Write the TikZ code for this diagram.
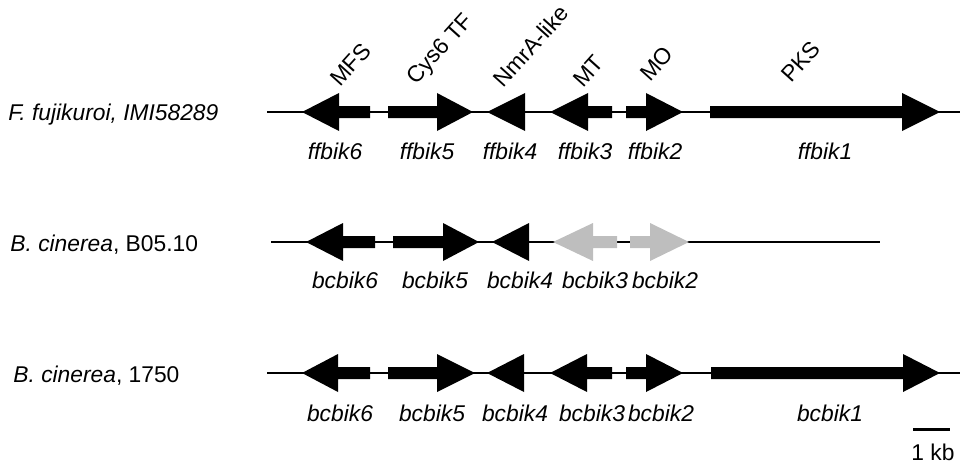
\documentclass[tikz,border=0pt]{standalone}
\usepackage{fontspec}
\setmainfont{Liberation Sans}
\definecolor{silentgrey}{RGB}{190,190,190}
\newcommand{\gen}[5][black]{\fill[#1] (#3,#2-6) -- (#4,#2-6) -- (#4,#2-19) -- (#5,#2) -- (#4,#2+19) -- (#4,#2+6) -- (#3,#2+6) -- cycle}
\newcommand{\backbone}[3]{\draw[line width=1.3pt] (#2,#1) -- (#3,#1)}

\begin{document}
\begin{tikzpicture}[x=0.5pt, y=-0.5pt, font=\fontsize{11.4}{13}\selectfont, inner sep=0pt,
                    genename/.style={anchor=base, font=\fontsize{11.4}{13}\selectfont\itshape},
                    product/.style={anchor=base west, rotate=48}]
                    \useasboundingbox (0,0) rectangle (962,465);

                    \node[anchor=base west, font=\fontsize{11.4}{13}\selectfont\itshape] (ff) at (8,120) {F. fujikuroi, IMI58289};
                    \node[anchor=base west] (bc1) at (10,251) {\textit{B. cinerea}, B05.10};
                    \node[anchor=base west] (bc2) at (13,382) {\textit{B. cinerea}, 1750};

                    \backbone{112}{267}{960};
                    \gen{112}{370}{339}{302};
                    \gen{112}{388}{437}{473};
                    \gen{112}{525}{525}{487};
                    \gen{112}{612}{588}{550};
                    \gen{112}{626}{646}{683};
                    \gen{112}{710}{902}{940};

                    \node[product] (mfs) at (340,88) {MFS};
                    \node[product] (cys) at (416,86) {Cys6 TF};
                    \node[product] (nmr) at (503,89) {NmrA-like};
                    \node[product] (mt) at (583,89) {MT};
                    \node[product] (mo) at (650,83) {MO};
                    \node[product] (pks) at (791,84) {PKS};

                    \node[genename] (f6) at (335,159) {ffbik6};
                    \node[genename] (f5) at (427,159) {ffbik5};
                    \node[genename] (f4) at (510,159) {ffbik4};
                    \node[genename] (f3) at (585,159) {ffbik3};
                    \node[genename] (f2) at (655,159) {ffbik2};
                    \node[genename] (f1) at (825,159) {ffbik1};

                    \backbone{242}{271}{880};
                    \gen{242}{375}{343}{306};
                    \gen{242}{393}{443}{479};
                    \gen{242}{529}{529}{492};
                    \gen[silentgrey]{242}{617}{593}{553};
                    \gen[silentgrey]{242}{630}{650}{689};

                    \node[genename] (b6) at (345,288) {bcbik6};
                    \node[genename] (b5) at (435,288) {bcbik5};
                    \node[genename] (b4) at (520,288) {bcbik4};
                    \node[genename] (b3) at (595,288) {bcbik3};
                    \node[genename] (b2) at (665,288) {bcbik2};

                    \backbone{373}{267}{960};
                    \gen{373}{370}{338}{302};
                    \gen{373}{388}{437}{475};
                    \gen{373}{524}{524}{487};
                    \gen{373}{612}{587}{550};
                    \gen{373}{626}{646}{683};
                    \gen{373}{711}{903}{940};

                    \node[genename] (c6) at (340,421) {bcbik6};
                    \node[genename] (c5) at (432,421) {bcbik5};
                    \node[genename] (c4) at (515,421) {bcbik4};
                    \node[genename] (c3) at (592,421) {bcbik3};
                    \node[genename] (c2) at (661,421) {bcbik2};
                    \node[genename] (c1) at (830,421) {bcbik1};

                    \draw[line width=1.5pt] (913,429) -- (950,429);
                    \node[anchor=base] (kb) at (933,460) {1 kb};
                \end{tikzpicture}
\end{document}
